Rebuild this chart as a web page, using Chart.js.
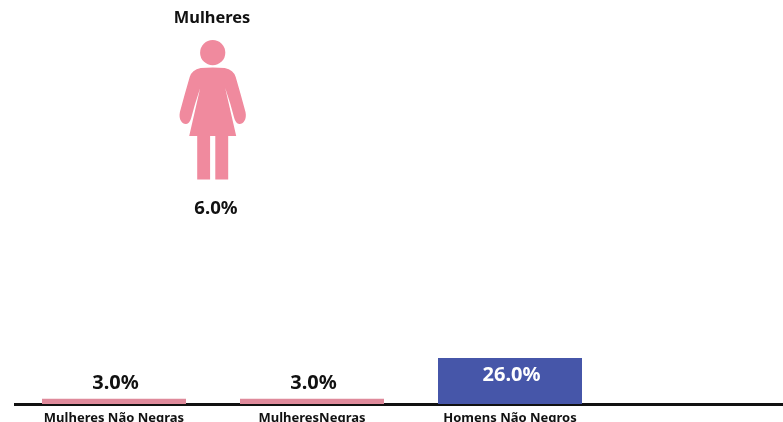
<!DOCTYPE html>
<html><head><meta charset="utf-8">
<style>html,body{margin:0;padding:0;background:#fff;overflow:hidden;width:783px;height:422px}
#w{position:absolute;left:0;top:0;width:807px;height:440px}</style>
<script src="https://cdn.jsdelivr.net/npm/chart.js@4"></script></head>
<body><div id="w"><canvas id="c" width="807" height="440"></canvas></div>
<script>
const categories = ['Mulheres Não Negras', 'MulheresNegras', 'Homens Não Negros', ''];
const values = [3, 3, 26, null];
const barColors = ['#df8a9b', '#df8a9b', '#4656a9', '#4656a9'];
const pictogramTitle = 'Mulheres';
const pictogramValue = 6;
const FONT = '"Noto Sans", sans-serif';

const labels = {
  id: 'labels',
  afterDatasetsDraw(chart) {
    const ctx = chart.ctx, meta = chart.getDatasetMeta(0);
    ctx.save();
    ctx.textAlign = 'center'; ctx.textBaseline = 'middle';
    ctx.font = 'bold 20px ' + FONT;
    values.forEach((v, i) => {
      if (v == null) return;
      const b = meta.data[i], inside = v > 10;
      ctx.fillStyle = inside ? '#ffffff' : '#111111';
      ctx.fillText(v.toFixed(1) + '%', b.x + 1.5, inside ? b.y + 17 : b.y - 15.5);
    });
    ctx.restore();
  }
};

const pictogram = {
  id: 'pictogram',
  afterDraw(chart) {
    const ctx = chart.ctx, cx = 212.7;
    ctx.save();
    ctx.fillStyle = '#f08a9e';
    ctx.beginPath(); ctx.arc(cx, 52.7, 12.6, 0, Math.PI * 2); ctx.fill();
    ctx.beginPath();
    [1, -1].forEach(s => {
      const X = d => cx + s * d;
      ctx.moveTo(cx, 67.5);
      ctx.lineTo(X(12), 68);
      ctx.quadraticCurveTo(X(21), 70, X(23), 77);
      ctx.quadraticCurveTo(X(28), 94, X(32.8), 112);
      ctx.bezierCurveTo(X(34.5), 120, X(30), 124.5, X(26.5), 124);
      ctx.quadraticCurveTo(X(23), 123.5, X(21.5), 118);
      ctx.quadraticCurveTo(X(18), 104, X(12.5), 88);
      ctx.lineTo(X(23.5), 136);
      ctx.lineTo(X(15.5), 136);
      ctx.lineTo(X(15.5), 179.5);
      ctx.lineTo(X(2.6), 179.5);
      ctx.lineTo(X(2.6), 136);
      ctx.lineTo(cx, 136);
      ctx.closePath();
    });
    ctx.fill();
    ctx.fillStyle = '#111111';
    ctx.textAlign = 'center'; ctx.textBaseline = 'middle';
    ctx.font = 'bold 16.4px ' + FONT;
    ctx.fillText(pictogramTitle, 212, 18.5);
    ctx.font = 'bold 18.6px ' + FONT;
    ctx.fillText(pictogramValue.toFixed(1) + '%', 216, 209);
    ctx.restore();
  }
};

new Chart(document.getElementById('c'), {
  type: 'bar',
  data: { labels: categories, datasets: [{ data: values, backgroundColor: barColors, borderWidth: 0, barPercentage: 1, categoryPercentage: 144 / 198 }] },
  plugins: [labels, pictogram],
  options: {
    responsive: false, animation: false,
    layout: { padding: { left: 15, right: 0, top: 0, bottom: 0 } },
    plugins: { legend: { display: false }, tooltip: { enabled: false }, title: { display: false } },
    scales: {
      y: { display: false, min: 0, max: 228 },
      x: {
        z: 1,
        afterFit(s) { s.height = 36; },
        grid: { display: false, drawTicks: false },
        border: { display: true, color: '#111111', width: 3 },
        ticks: { color: '#111111', font: { family: FONT, weight: 'bold', size: 13 }, padding: 6, maxRotation: 0, autoSkip: false }
      }
    }
  }
});
</script></body></html>
